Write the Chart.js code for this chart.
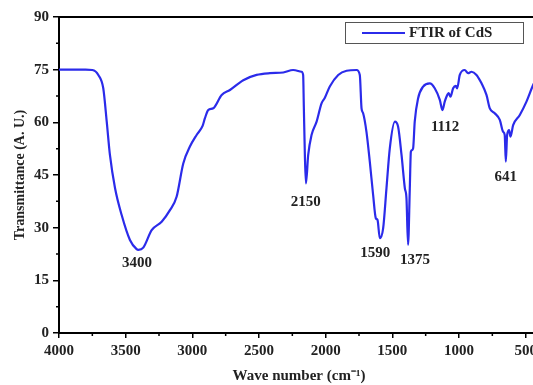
<!DOCTYPE html>
<html>
<head>
<meta charset="utf-8">
<script src="https://cdn.jsdelivr.net/npm/chart.js@4.4.1/dist/chart.umd.min.js"></script>
<style>
html, body { margin: 0; padding: 0; overflow: hidden; background: #fff; }
#wrap { width: 560px; height: 385px; }
</style>
</head>
<body>
<div id="wrap"><canvas id="ftirChart"></canvas></div>
<script>
// spectrum (cm-1, %T)
const waveNumber = [4000, 3900, 3800, 3750, 3705, 3668, 3642, 3618, 3580, 3530, 3468, 3418, 3405, 3368, 3305, 3230, 3168, 3118, 3068, 3018,
  2968, 2923, 2906, 2881, 2843, 2780, 2718, 2618, 2518, 2418, 2318, 2244, 2181, 2169, 2164, 2156, 2148, 2131, 2106, 2068,
  2031, 2006, 1969, 1906, 1843, 1768, 1744, 1731, 1719, 1694, 1669, 1644, 1624, 1611, 1594, 1569, 1544, 1519, 1481, 1457,
  1431, 1406, 1394, 1382, 1369, 1361, 1352, 1344, 1332, 1307, 1269, 1219, 1182, 1144, 1124, 1107, 1094, 1077, 1064, 1044,
  1024, 1014, 994, 957, 932, 906, 869, 831, 794, 769, 732, 694, 669, 657, 649, 639, 624, 614, 594, 544, 494, 449, 420];
const transmittance = [75.0, 75.0, 75.0, 74.9, 73.5, 69.7, 60.2, 50.7, 41.3, 33.6, 26.5, 23.9, 23.7, 24.3, 29.3, 31.7, 35.0, 38.8, 48.3, 53.1,
  56.4, 59.0, 61.1, 63.5, 64.0, 67.8, 69.2, 72.0, 73.5, 74.0, 74.2, 74.9, 74.4, 73.5, 64.9, 50.7, 42.6, 50.7, 56.4, 60.2,
  65.4, 67.0, 70.2, 73.5, 74.7, 74.9, 73.5, 64.0, 62.6, 57.3, 48.8, 39.3, 32.7, 32.2, 27.0, 29.8, 41.2, 52.6, 60.2, 58.8,
  50.7, 41.2, 38.4, 25.1, 41.2, 51.6, 52.1, 52.6, 60.2, 66.8, 70.2, 71.1, 69.7, 66.4, 63.5, 65.9, 67.3, 68.3, 67.3, 69.7,
  70.4, 69.7, 73.5, 74.9, 74.0, 74.4, 73.5, 71.1, 67.8, 64.0, 62.6, 60.7, 57.3, 56.4, 48.8, 56.4, 57.8, 55.9, 59.2, 62.1, 65.9, 70.2, 72.5];

const xTicks = [4000, 3500, 3000, 2500, 2000, 1500, 1000, 500];
const yTicks = [0, 15, 30, 45, 60, 75, 90];

const peakLabels = ['3400', '2150', '1590', '1375', '1112', '641'];
const peakWave = [3400, 2150, 1590, 1375, 1112, 641];
const peakValue = [23.7, 42.6, 27.0, 25.1, 63.5, 48.8];

const seriesName = 'FTIR of CdS';
const serif = "'Liberation Serif', 'Times New Roman', serif";
const blue = '#2b2bea';

const points = waveNumber.map((w, i) => ({ x: w, y: transmittance[i] }));

function midpoints(arr) {
  let out = [];
  for (let i = 0; i < arr.length - 1; i++) out.push((arr[i] + arr[i + 1]) / 2);
  return out;
}

const extras = {
  id: 'extras',
  afterDraw(chart) {
    const c = chart.ctx, a = chart.chartArea;
    const xs = chart.scales.x, ys = chart.scales.y;
    c.save();
    // top frame line
    c.strokeStyle = '#000';
    c.lineWidth = 2;
    c.beginPath();
    c.moveTo(a.left - 1, a.top);
    c.lineTo(a.right, a.top);
    c.stroke();
    // minor ticks
    c.lineWidth = 1.5;
    c.beginPath();
    midpoints(xTicks).forEach(v => {
      const px = xs.getPixelForValue(v);
      c.moveTo(px, a.bottom);
      c.lineTo(px, a.bottom + 3);
    });
    midpoints(yTicks).forEach(v => {
      const py = ys.getPixelForValue(v);
      c.moveTo(a.left, py);
      c.lineTo(a.left - 3, py);
    });
    c.stroke();
    // peak labels
    const dx = [-2, 0, -5, 6, 1, -1];
    const dy = [13, 19, 15, 15, 17, 15];
    c.fillStyle = '#222';
    c.font = 'bold 15px ' + serif;
    c.textAlign = 'center';
    c.textBaseline = 'middle';
    peakLabels.forEach((t, i) => {
      c.fillText(t, xs.getPixelForValue(peakWave[i]) + dx[i], ys.getPixelForValue(peakValue[i]) + dy[i]);
    });
    // legend box
    c.strokeStyle = '#555';
    c.lineWidth = 1;
    c.strokeRect(345.5, 22.5, 178, 21);
    c.strokeStyle = blue;
    c.lineWidth = 2;
    c.beginPath();
    c.moveTo(362, 33);
    c.lineTo(405, 33);
    c.stroke();
    c.fillStyle = '#222';
    c.font = 'bold 15px ' + serif;
    c.textAlign = 'left';
    c.fillText(chart.data.datasets[0].label, 409, 33);
    c.restore();
  }
};

const tickFont = { family: serif, size: 15, weight: 'bold' };
const titleFont = { family: serif, size: 15, weight: 'bold' };

new Chart(document.getElementById('ftirChart'), {
  type: 'line',
  data: {
    datasets: [{
      label: seriesName,
      data: points,
      borderColor: blue,
      borderWidth: 2.2,
      pointRadius: 0,
      fill: false,
      cubicInterpolationMode: 'monotone'
    }]
  },
  options: {
    responsive: true,
    maintainAspectRatio: false,
    animation: false,
    layout: { padding: { top: 17, right: 21, left: 0, bottom: 0 } },
    plugins: { legend: { display: false }, tooltip: { enabled: false } },
    scales: {
      x: {
        type: 'linear',
        reverse: true,
        min: 400,
        max: 4000,
        afterBuildTicks: s => { s.ticks = xTicks.map(v => ({ value: v })); },
        afterFit: s => { s.height = 52; },
        border: { color: '#000', width: 2 },
        grid: { drawOnChartArea: false, drawTicks: true, tickLength: 5, color: '#000', lineWidth: 1.5 },
        ticks: { color: '#222', font: tickFont, padding: 4, maxRotation: 0, autoSkip: false, callback: v => String(v) },
        title: { display: true, text: 'Wave number (cm⁻¹)', color: '#222', font: titleFont, padding: { top: 5, bottom: 0 } }
      },
      y: {
        min: 0,
        max: 90,
        afterBuildTicks: s => { s.ticks = yTicks.map(v => ({ value: v })); },
        afterFit: s => { s.width = 59; },
        border: { color: '#000', width: 2 },
        grid: { drawOnChartArea: false, drawTicks: true, tickLength: 6, color: '#000', lineWidth: 1.5 },
        ticks: { color: '#222', font: tickFont, padding: 4, callback: v => String(v) },
        title: { display: true, text: 'Transmittance (A. U.)', color: '#222', font: { family: serif, size: 14, weight: 'bold' }, padding: { top: 12, bottom: 0 } }
      }
    }
  },
  plugins: [extras]
});
</script>
</body>
</html>
